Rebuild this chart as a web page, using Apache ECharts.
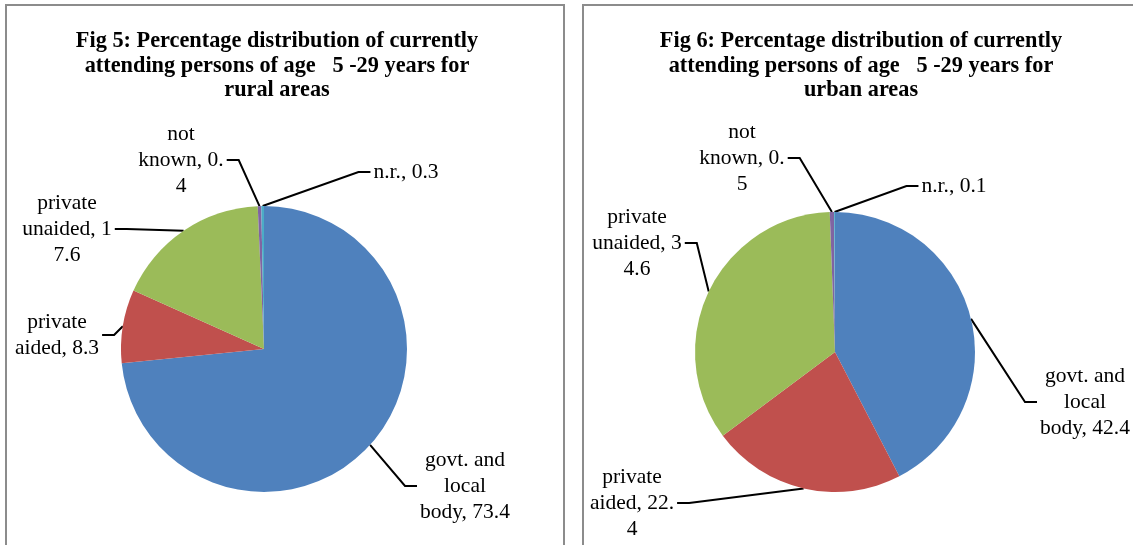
<!DOCTYPE html>
<html>
<head>
<meta charset="utf-8">
<script src="https://cdn.jsdelivr.net/npm/echarts@6/dist/echarts.min.js"></script>
<style>
  html, body { margin: 0; padding: 0; background: #fff; }
  #main { width: 1133px; height: 545px; }
</style>
</head>
<body>
<div id="main"></div>
<script>
// data
var categories = ['govt. and local body', 'private aided', 'private unaided', 'not known', 'n.r.'];
var ruralValues = [73.4, 8.3, 17.6, 0.4, 0.3];
var urbanValues = [42.4, 22.4, 34.6, 0.5, 0.1];
var sliceColors = ['#4F81BD', '#C0504D', '#9BBB59', '#8064A2', '#4BACC6'];

var ruralTitle = 'Fig 5: Percentage distribution of currently\nattending persons of age   5 -29 years for\nrural areas';
var urbanTitle = 'Fig 6: Percentage distribution of currently\nattending persons of age   5 -29 years for\nurban areas';

// where the original wraps each "name, value" label (char index)
var ruralBreaks = [[9, 15], [7], [7, 18], [3, 13], []];
var urbanBreaks = [[9, 15], [7, 18], [7, 18], [3, 13], []];

// label centres (px)
var ruralLabelPos = [[465, 486], [57, 335], [67, 229], [181, 160], [406, 172]];
var urbanLabelPos = [[1085, 402], [632, 503], [637, 243], [742, 158], [954, 186]];

function wrapLabel(text, cuts) {
  var out = [], prev = 0;
  cuts.forEach(function (c) {
    out.push(text.slice(prev, c).trim());
    prev = c;
  });
  out.push(text.slice(prev).trim());
  return out.join('\n');
}

function pieSeries(values, breaks, pos, center, radius) {
  return {
    type: 'pie',
    center: center,
    radius: radius,
    startAngle: 90,
    clockwise: true,
    avoidLabelOverlap: false,
    animation: false,
    itemStyle: { borderWidth: 0 },
    label: {
      show: true,
      position: 'outside',
      color: '#000',
      fontFamily: 'Liberation Serif',
      fontSize: 21.5,
      lineHeight: 26,
      align: 'center',
      padding: [0, 3],
      formatter: function (p) {
        return wrapLabel(p.name + ', ' + p.value, breaks[p.dataIndex]);
      }
    },
    labelLine: {
      show: true,
      length: 10,
      length2: 12,
      smooth: false,
      lineStyle: { color: '#000', width: 2 }
    },
    labelLayout: function (p) {
      return {
        x: pos[p.dataIndex][0],
        y: pos[p.dataIndex][1],
        align: 'center',
        verticalAlign: 'middle'
      };
    },
    emphasis: { disabled: true },
    data: categories.map(function (c, i) {
      return { name: c, value: values[i], itemStyle: { color: sliceColors[i] } };
    })
  };
}

var chart = echarts.init(document.getElementById('main'));
var titleStyle = {
  fontFamily: 'Liberation Serif',
  fontWeight: 'bold',
  fontSize: 22.3,
  lineHeight: 24.5,
  color: '#000'
};
chart.setOption({
  backgroundColor: '#fff',
  title: [
    { text: ruralTitle, left: 272, top: 24, textAlign: 'center', textStyle: titleStyle },
    { text: urbanTitle, left: 856, top: 24, textAlign: 'center', textStyle: titleStyle }
  ],
  graphic: [
    { type: 'rect', shape: { x: 6, y: 5, width: 558, height: 600 },
      style: { fill: null, stroke: '#8c8c8c', lineWidth: 2 }, silent: true },
    { type: 'rect', shape: { x: 583, y: 5, width: 600, height: 600 },
      style: { fill: null, stroke: '#8c8c8c', lineWidth: 2 }, silent: true }
  ],
  series: [
    pieSeries(ruralValues, ruralBreaks, ruralLabelPos, [264, 349], 143),
    pieSeries(urbanValues, urbanBreaks, urbanLabelPos, [835, 352], 140)
  ]
});
</script>
</body>
</html>
